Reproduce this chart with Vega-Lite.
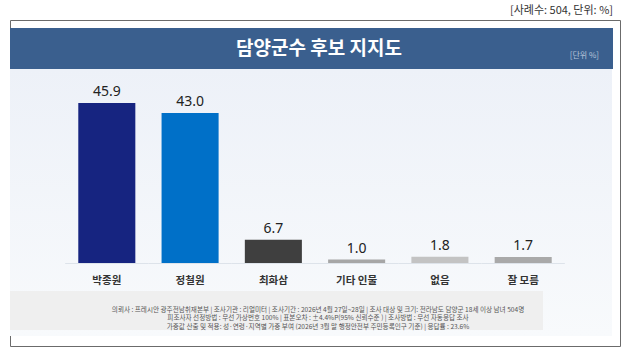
{
  "$schema": "https://vega.github.io/schema/vega-lite/v6.json",
  "autosize": {"type": "none"},
  "width": 610,
  "height": 326,
  "padding": {"left": 10, "top": 20, "right": 20, "bottom": 13},
  "background": "white",
  "config": {
    "view": {"stroke": "#6b6b6b", "strokeWidth": 1, "fill": "white"},
    "font": "Noto Sans CJK KR"
  },
  "title": {
    "text": "[사례수: 504, 단위: %]",
    "anchor": "end",
    "frame": "group",
    "fontSize": 11,
    "fontWeight": "normal",
    "color": "#333333",
    "offset": 4,
    "dx": -7,
    "font": "Noto Sans CJK KR"
  },
  "data": {
    "values": [
      {"후보": "박종원", "지지도": 45.9},
      {"후보": "정철원", "지지도": 43.0},
      {"후보": "최화삼", "지지도": 6.7},
      {"후보": "기타 인물", "지지도": 1.0},
      {"후보": "없음", "지지도": 1.8},
      {"후보": "잘 모름", "지지도": 1.7}
    ]
  },
  "layer": [
    {
      "data": {"values": [{}]},
      "mark": {
        "type": "rect",
        "xOffset": -8,
        "x2Offset": 7,
        "color": {
          "gradient": "linear",
          "x1": 0, "y1": 0, "x2": 0, "y2": 1,
          "stops": [
            {"offset": 0, "color": "#edf1f8"},
            {"offset": 1, "color": "#f8fafc"}
          ]
        }
      },
      "encoding": {
        "y": {"datum": 55.65, "type": "quantitative", "scale": {"domain": [-23.81, 69.71], "nice": false, "zero": false}, "axis": null},
        "y2": {"datum": -20.94}
      }
    },
    {
      "data": {"values": [{}]},
      "mark": {"type": "rect", "xOffset": -7, "x2Offset": 7, "color": "#3a5f8e"},
      "encoding": {
        "y": {"datum": 67.41, "type": "quantitative"},
        "y2": {"datum": 55.65}
      }
    },
    {
      "data": {"values": [{}]},
      "mark": {"type": "text", "text": "담양군수 후보 지지도", "fontSize": 19, "fontWeight": "bold", "color": "white", "baseline": "middle", "dx": 4},
      "encoding": {
        "y": {"datum": 61.53, "type": "quantitative"}
      }
    },
    {
      "data": {"values": [{}]},
      "mark": {"type": "text", "text": "[단위 %]", "fontSize": 8, "color": "#b8c6da", "align": "right", "baseline": "middle", "dx": -21},
      "encoding": {
        "x": {"value": "width"},
        "y": {"datum": 59.38, "type": "quantitative"}
      }
    },
    {
      "mark": {"type": "bar", "color": "#dde3ea", "width": {"band": 1.46}},
      "encoding": {
        "x": {"field": "후보", "type": "nominal", "sort": null, "axis": null},
        "y": {"datum": 0, "type": "quantitative"},
        "y2": {"datum": -0.29}
      }
    },
    {
      "mark": {"type": "bar"},
      "encoding": {
        "x": {
          "field": "후보",
          "type": "nominal",
          "sort": null,
          "scale": {"domain": ["박종원", "정철원", "최화삼", "기타 인물", "없음", "잘 모름"], "paddingInner": 0.315, "paddingOuter": 0.82},
          "axis": null
        },
        "y": {"field": "지지도", "type": "quantitative"},
        "color": {
          "field": "후보",
          "type": "nominal",
          "scale": {
            "domain": ["박종원", "정철원", "최화삼", "기타 인물", "없음", "잘 모름"],
            "range": ["#162480", "#0070c8", "#3f3f3f", "#a6a6a6", "#c3c3c3", "#a9a9a9"]
          },
          "legend": null
        }
      }
    },
    {
      "mark": {"type": "text", "fontSize": 14, "font": "Noto Sans", "color": "#222222", "baseline": "alphabetic", "dy": -7},
      "encoding": {
        "x": {"field": "후보", "type": "nominal", "sort": null, "axis": null},
        "y": {"field": "지지도", "type": "quantitative"},
        "text": {"field": "지지도", "type": "quantitative", "format": ".1f"}
      }
    },
    {
      "mark": {"type": "text", "fontSize": 10.5, "fontWeight": "bold", "color": "#333333", "baseline": "middle"},
      "encoding": {
        "x": {"field": "후보", "type": "nominal", "sort": null, "axis": null},
        "y": {"datum": -5.3, "type": "quantitative"},
        "text": {"field": "후보", "type": "nominal"}
      }
    },
    {
      "data": {"values": [{}]},
      "mark": {"type": "rect", "color": "#efefef", "xOffset": -77, "x2Offset": 83},
      "encoding": {
        "y": {"datum": -8.03, "type": "quantitative"},
        "y2": {"datum": -19.22}
      }
    },
    {
      "data": {"values": [{}]},
      "mark": {
        "type": "text",
        "text": [
          "의뢰사 : 프레시안 광주전남취재본부 | 조사기관 : 리얼미터  |  조사기간 : 2026년 4월 27일~28일 | 조사 대상 및 크기: 전라남도 담양군 18세 이상 남녀 504명",
          "피조사자 선정방법 : 무선 가상번호 100% | 표본오차 : ±4.4%P(95% 신뢰수준 ) | 조사방법 : 무선 자동응답 조사",
          "가중값 산출 및 적용: 성·연령·지역별 가중 부여 (2026년 3월 말 행정안전부 주민등록인구 기준) | 응답률 : 23.6%"
        ],
        "fontSize": 6.6,
        "lineHeight": 8.6,
        "color": "#555555",
        "baseline": "middle",
        "dx": 3
      },
      "encoding": {
        "y": {"datum": -13.34, "type": "quantitative"}
      }
    }
  ]
}
